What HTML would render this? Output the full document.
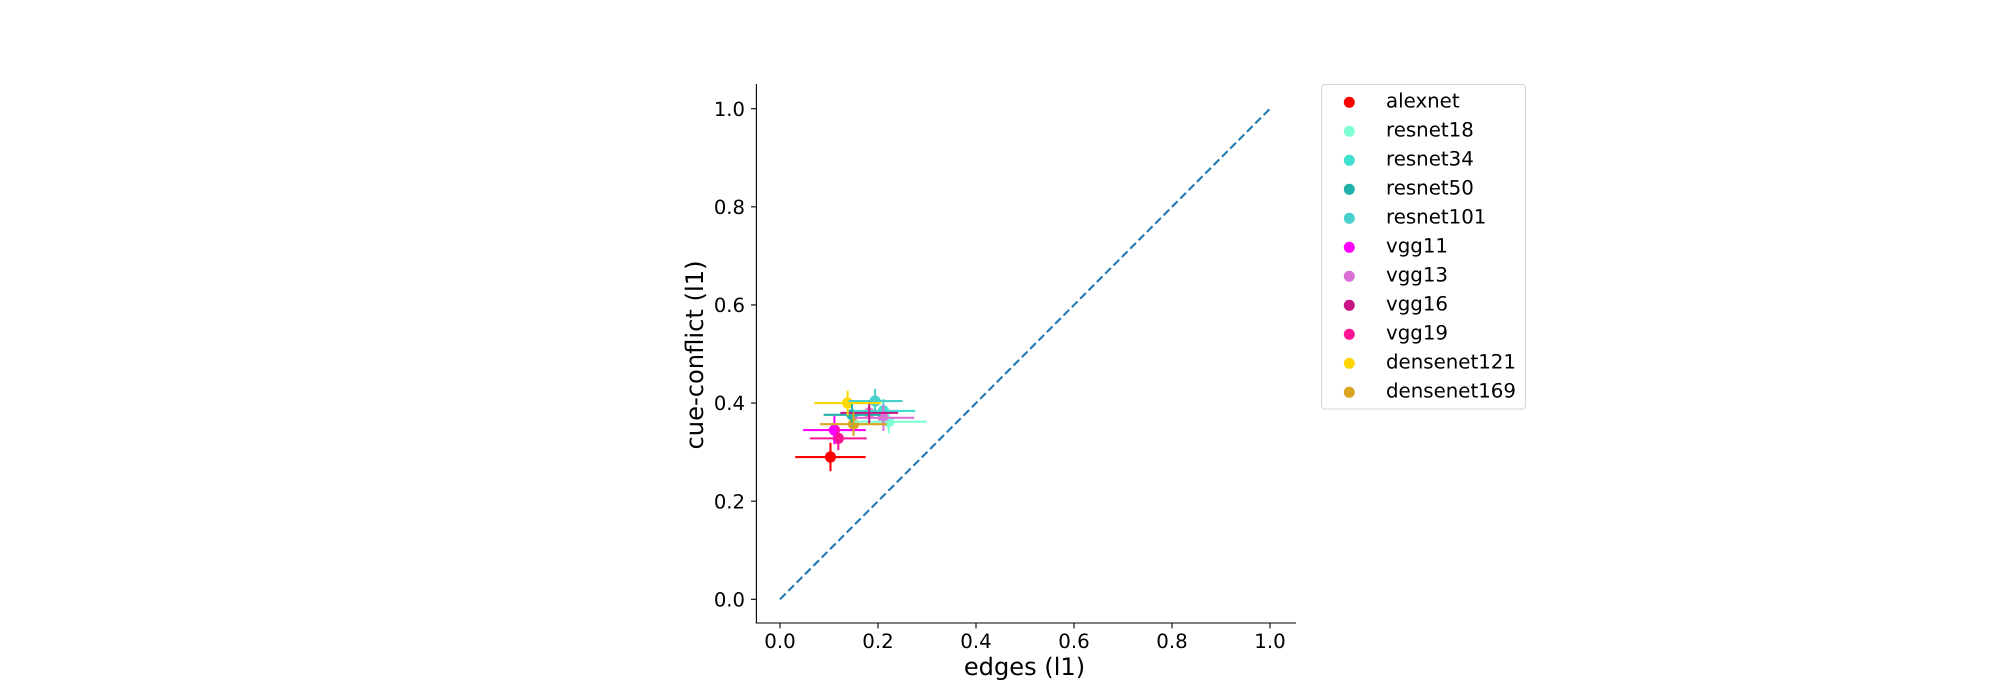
<!DOCTYPE html>
<html>
<head>
<meta charset="utf-8">
<title>edges vs cue-conflict</title>
<style>
html,body{margin:0;padding:0;background:#fff;width:2000px;height:700px;overflow:hidden}
svg{display:block}
text{font-family:"DejaVu Sans","Liberation Sans",sans-serif;fill:#000;text-rendering:geometricPrecision}
</style>
</head>
<body>
<svg id="chart" xmlns="http://www.w3.org/2000/svg" width="2000" height="700" viewBox="0 0 2000 700">
  <rect width="2000" height="700" fill="#fff"/>
  <g id="points"></g>
  <g id="marks"></g>
  <g id="axes"></g>
  <text x="1024.5" y="675" font-size="24.1" text-anchor="middle">edges (l1)</text>
  <text transform="translate(703 355) rotate(-90)" font-size="24.2" text-anchor="middle">cue-conflict (l1)</text>
  <rect x="1321.5" y="84.5" width="204" height="324.5" rx="3.5" ry="3.5" fill="#fff" stroke="#d5d5d5" stroke-width="1.1"/>
  <g id="legend"></g>
</svg>
<script>
const models = ['alexnet','resnet18','resnet34','resnet50','resnet101','vgg11','vgg13','vgg16','vgg19','densenet121','densenet169'];
const edgesValues = [0.103,0.222,0.211,0.147,0.194,0.111,0.211,0.182,0.119,0.138,0.150];
const cueConflictValues = [0.290,0.362,0.384,0.376,0.404,0.345,0.370,0.380,0.328,0.400,0.357];
const edgesErrors = [0.072,0.077,0.065,0.058,0.056,0.064,0.063,0.059,0.058,0.068,0.068];
const cueConflictErrors = [0.029,0.024,0.024,0.024,0.025,0.029,0.027,0.023,0.024,0.025,0.024];
const seriesColors = ['#ff0000','#7fffd4','#40e0d0','#20b2aa','#48d1cc','#ff00ff','#da70d6','#c71585','#ff1493','#ffd700','#daa520'];
const xTickValues = [0,0.2,0.4,0.6,0.8,1];
const yTickValues = [0,0.2,0.4,0.6,0.8,1];
const xTickLabels = ['0.0','0.2','0.4','0.6','0.8','1.0'];
const yTickLabels = ['0.0','0.2','0.4','0.6','0.8','1.0'];
const diagonalValues = [0,1];

const NS = 'http://www.w3.org/2000/svg';
function sx(v){ return 780 + v * 490; }
function sy(v){ return 599.3 - v * 490.6; }
function make(parent, tag, attrs){
  const el = document.createElementNS(NS, tag);
  for (const k in attrs) el.setAttribute(k, attrs[k]);
  parent.appendChild(el);
  return el;
}

const points = document.getElementById('points');
const marks = document.getElementById('marks');
const axes = document.getElementById('axes');
const legend = document.getElementById('legend');

const diagonal = make(marks, 'line', {x1:sx(diagonalValues[0]), y1:sy(diagonalValues[0]), x2:sx(diagonalValues[1]), y2:sy(diagonalValues[1]), stroke:'#1f77b4', 'stroke-width':2.08, 'stroke-dasharray':'8 3.8'});



models.forEach(function(name, i){
  const color = seriesColors[i];
  const x = edgesValues[i], y = cueConflictValues[i];
  const ex = edgesErrors[i], ey = cueConflictErrors[i];

  const point = make(points, 'circle', {cx:sx(x), cy:sy(y), r:5.6, fill:color, 'fill-opacity':(name === 'vgg16' ? 0.5 : 1)});
  
  

  const g = make(marks, 'g', {});
  
  

  const hLine = make(g, 'line', {x1:sx(x-ex), y1:sy(y), x2:sx(x+ex), y2:sy(y), stroke:color, 'stroke-width':2.08});
  
  

  const vLine = make(g, 'line', {x1:sx(x), y1:sy(y-ey), x2:sx(x), y2:sy(y+ey), stroke:color, 'stroke-width':2.08});
  
  

  const ly = 102.3 + i * 29;
  const dot = make(legend, 'circle', {cx:1349.3, cy:ly, r:5.5, fill:color});
  
  

  const label = make(legend, 'text', {x:1386, y:ly + 5, 'font-size':19.8});
  label.textContent = name;
  
  
});

const leftSpine = make(axes, 'line', {x1:756.4, y1:84, x2:756.4, y2:623.5, stroke:'#000', 'stroke-width':1.11});



const bottomSpine = make(axes, 'line', {x1:755.8, y1:623, x2:1296, y2:623, stroke:'#000', 'stroke-width':1.11});



xTickValues.forEach(function(v, i){
  const tick = make(axes, 'line', {x1:sx(v), y1:623, x2:sx(v), y2:628.4, stroke:'#000', 'stroke-width':1.11});
  
  
  const label = make(axes, 'text', {x:sx(v), y:648, 'font-size':19.8, 'text-anchor':'middle'});
  label.textContent = xTickLabels[i];
  
  
});

yTickValues.forEach(function(v, i){
  const tick = make(axes, 'line', {x1:751, y1:sy(v), x2:756.4, y2:sy(v), stroke:'#000', 'stroke-width':1.11});
  
  
  const label = make(axes, 'text', {x:745, y:sy(v) + 7.1, 'font-size':19.6, 'text-anchor':'end'});
  label.textContent = yTickLabels[i];
  
  
});
</script>
</body>
</html>
